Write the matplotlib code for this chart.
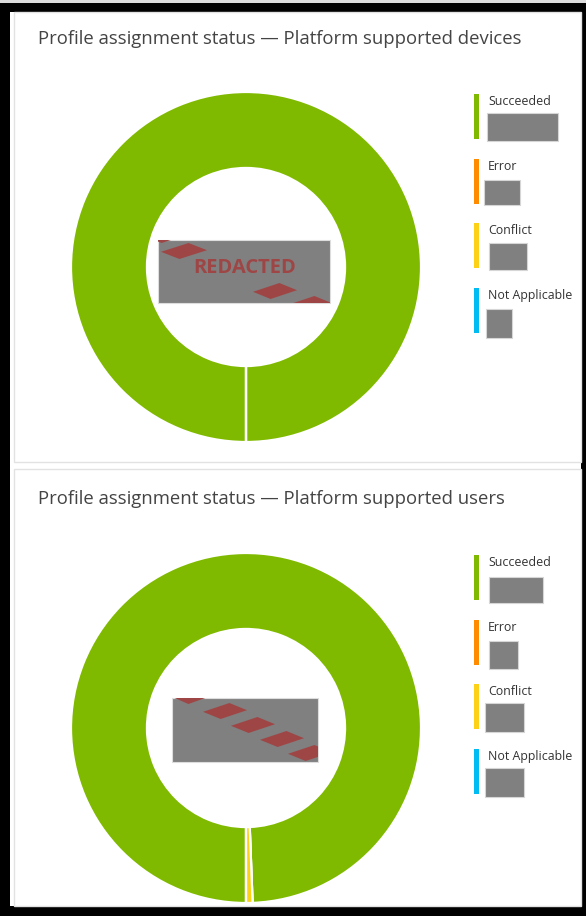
import matplotlib
matplotlib.use('Agg')
import matplotlib.pyplot as plt
from matplotlib.patches import Rectangle, Polygon

plt.rcParams['font.family'] = ['Open Sans', 'DejaVu Sans']

# ---------------- data ----------------
categories = ['Succeeded', 'Error', 'Conflict', 'Not Applicable']
colors = ['#7fba00', '#ff8c00', '#fcd116', '#00bcf2']
titles = ['Profile assignment status \u2014 Platform supported devices',
          'Profile assignment status \u2014 Platform supported users']
devices_values = [1000, 0, 0, 0]
users_values = [994, 0, 6, 0]

# ---------------- layout (pixels) ----------------
W, H = 586, 916
fig = plt.figure(figsize=(W / 100, H / 100), dpi=100)
fig.patch.set_facecolor('black')


def fr(x0, y0, x1, y1):
    return (x0 / W, 1 - y1 / H), (x1 - x0) / W, (y1 - y0) / H


def add_rect(x0, y0, x1, y1, fc, ec='none', lw=0, z=0):
    xy, w, h = fr(x0, y0, x1, y1)
    r = Rectangle(xy, w, h, transform=fig.transFigure, facecolor=fc,
                  edgecolor=ec, linewidth=lw, zorder=z)
    fig.add_artist(r)
    return r


def P(x, y):
    return (x / W, 1 - y / H)


# outer frame
add_rect(0, 0, W, 3, '#dcdcdc')
add_rect(10, 12, 581, 906, 'white')
# panels
add_rect(14, 12, 581, 462, 'white', '#e2e2e2', 1.0)
add_rect(14, 469, 581, 906, 'white', '#e2e2e2', 1.0)

panels = [
    dict(values=devices_values, donut=(71, 92, 421, 442), title_y=39,
         bars=[94, 159, 223, 288],
         boxes=[(487, 113, 558, 141), (484, 180, 520, 205),
                (489, 243, 527, 270), (486, 309, 512, 338)],
         red=(158, 240, 330, 303),
         stripes=[(148, 231, 34, 12), (161, 243, 46, 16), (253, 283, 44, 16),
                  (288, 296, 44, 16)],
         text=True),
    dict(values=users_values, donut=(71, 553, 421, 903), title_y=499,
         bars=[555, 620, 684, 749],
         boxes=[(489, 577, 543, 603), (489, 641, 518, 669),
                (485, 703, 524, 732), (485, 768, 524, 797)],
         red=(172, 698, 318, 762),
         stripes=[(174, 690, 36, 14), (203, 703, 44, 16), (231, 717, 44, 16),
                  (260, 731, 44, 16), (288, 745, 44, 16)],
         text=False),
]

for i, p in enumerate(panels):
    # title
    fig.text(38 / W, 1 - p['title_y'] / H, titles[i], fontsize=13.3,
             color='#444444', va='center', ha='left')

    # donut
    x0, y0, x1, y1 = p['donut']
    xy, w, h = fr(x0, y0, x1, y1)
    ax = fig.add_axes([xy[0], xy[1], w, h])
    ax.pie(p['values'], colors=colors, startangle=-90, counterclock=False,
           radius=1.0,
           wedgeprops=dict(width=0.434, edgecolor='white', linewidth=1.6))
    ax.set_xlim(-1.0, 1.0)
    ax.set_ylim(-1.0, 1.0)
    ax.set_aspect('equal')
    ax.axis('off')

    # legend
    for j, cat in enumerate(categories):
        by = p['bars'][j]
        add_rect(474, by, 479, by + 45, colors[j], z=3)
        fig.text(488 / W, 1 - (by + 7.5) / H, cat, fontsize=8.9,
                 color='#333333', va='center', ha='left')
        bx0, by0, bx1, by1 = p['boxes'][j]
        add_rect(bx0, by0, bx1, by1, '#808080', '#d6d6d6', 0.8, z=3)

    # redacted center box
    rx0, ry0, rx1, ry1 = p['red']
    box = add_rect(rx0, ry0, rx1, ry1, '#808080', '#dddddd', 0.8, z=5)
    for (sx, sy, sw, sh) in p['stripes']:
        pts = [P(sx, sy + 0.55 * sh), P(sx + 0.6 * sw, sy),
               P(sx + sw, sy + 0.45 * sh), P(sx + 0.4 * sw, sy + sh)]
        poly = Polygon(pts, closed=True, transform=fig.transFigure,
                       facecolor='#9e4646', edgecolor='none', zorder=6)
        fig.add_artist(poly)
        poly.set_clip_path(box)
    if p['text']:
        fig.text(245 / W, 1 - 268 / H, 'REDACTED', fontsize=14.5,
                 fontweight='bold', color='#9e4646', ha='center',
                 va='center', zorder=7)

fig.savefig('out.png', dpi=100, facecolor=fig.get_facecolor())
